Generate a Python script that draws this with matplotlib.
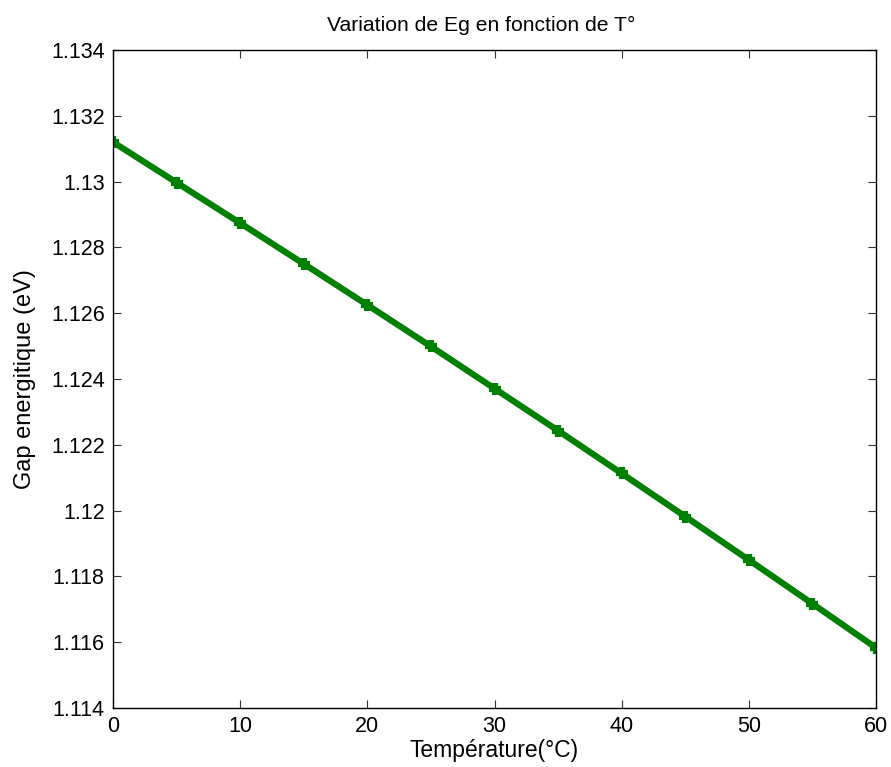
import matplotlib
matplotlib.use("Agg")
import matplotlib.pyplot as plt
from matplotlib.ticker import FuncFormatter

temperature = [0, 5, 10, 15, 20, 25, 30, 35, 40, 45, 50, 55, 60]
gap_ev = [1.13120, 1.12997, 1.12874, 1.12750, 1.12625, 1.12499, 1.12371,
          1.12243, 1.12113, 1.11982, 1.11850, 1.11717, 1.11583]
x_ticks = [0, 10, 20, 30, 40, 50, 60]
y_ticks = [1.114, 1.116, 1.118, 1.12, 1.122, 1.124, 1.126, 1.128, 1.13, 1.132, 1.134]

plt.rcParams['font.family'] = ['Liberation Sans', 'DejaVu Sans']

fig = plt.figure(figsize=(8.91, 7.67), dpi=100)
ax = fig.add_axes([113/891, 1-708/767, (876-113)/891, (708-50)/767])

ax.plot(temperature, gap_ev, color=(0, 0.5, 0), linewidth=4.5,
        marker='+', markersize=9, markeredgewidth=4.5)

ax.set_xlim(0, 60)
ax.set_ylim(1.114, 1.134)
ax.set_xticks(x_ticks)
ax.set_yticks(y_ticks)
ax.yaxis.set_major_formatter(FuncFormatter(lambda v, p: f"{v:.3f}".rstrip('0')))
ax.tick_params(direction='in', length=6, width=0.8, color='#333333',
               top=True, right=True, labelsize=15.5, pad=6)
for s in ax.spines.values():
    s.set_linewidth(1.0)

ax.set_title("Variation de Eg en fonction de T°", fontsize=15.2, pad=14, x=0.482)
ax.set_xlabel("Température(°C)", fontsize=16.5, labelpad=1)
ax.set_ylabel("Gap energitique (eV)", fontsize=17, labelpad=11)

fig.savefig("out.png", dpi=100)
